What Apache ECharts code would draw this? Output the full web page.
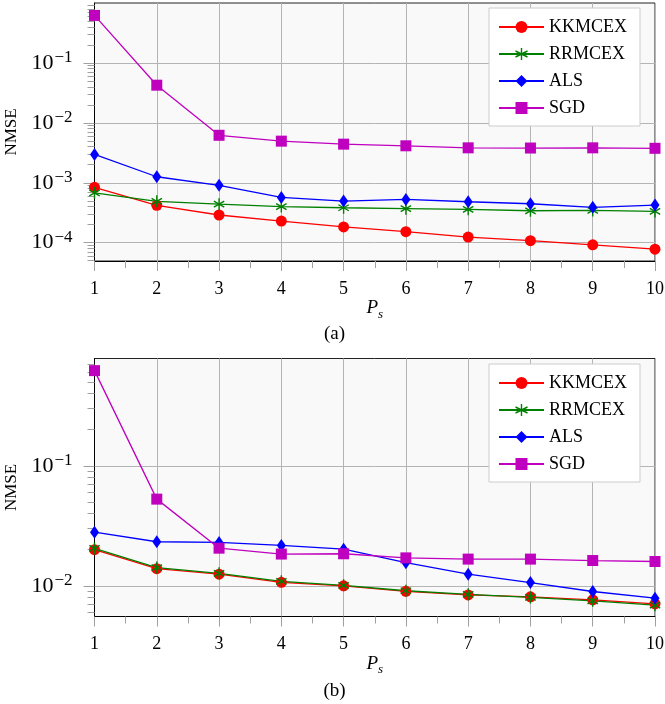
<!DOCTYPE html>
<html>
<head>
<meta charset="utf-8">
<script src="https://cdn.jsdelivr.net/npm/echarts@6/dist/echarts.min.js"></script>
<style>
html,body{margin:0;padding:0;background:#fff;}
#chart{width:665px;height:704px;}
</style>
</head>
<body>
<div id="chart"></div>
<script>
// ---- data ----
const xValues = [1, 2, 3, 4, 5, 6, 7, 8, 9, 10];
const seriesNames = ['KKMCEX', 'RRMCEX', 'ALS', 'SGD'];

// (a)
const kkmcexA = [8.4e-4, 4.2e-4, 2.9e-4, 2.3e-4, 1.83e-4, 1.53e-4, 1.24e-4, 1.08e-4, 9.2e-5, 7.8e-5];
const rrmcexA = [6.8e-4, 4.9e-4, 4.4e-4, 4.0e-4, 3.83e-4, 3.7e-4, 3.6e-4, 3.41e-4, 3.46e-4, 3.33e-4];
const alsA    = [2.97e-3, 1.26e-3, 9.05e-4, 5.7e-4, 4.95e-4, 5.28e-4, 4.82e-4, 4.47e-4, 3.89e-4, 4.25e-4];
const sgdA    = [0.62, 0.0425, 6.2e-3, 4.95e-3, 4.41e-3, 4.14e-3, 3.83e-3, 3.8e-3, 3.83e-3, 3.76e-3];

// (b)
const kkmcexB = [0.0200, 0.0139, 0.0125, 0.0107, 0.0100, 0.0090, 0.0084, 0.0081, 0.00765, 0.00708];
const rrmcexB = [0.0205, 0.0142, 0.0127, 0.0109, 0.0101, 0.0091, 0.0085, 0.0080, 0.0075, 0.0069];
const alsB    = [0.0280, 0.0233, 0.0230, 0.0217, 0.0202, 0.0156, 0.0125, 0.01064, 0.00897, 0.00789];
const sgdB    = [0.622, 0.0528, 0.0206, 0.0184, 0.0185, 0.0171, 0.0167, 0.0167, 0.01625, 0.01595];

// axis ticks
const xTicks = [1, 2, 3, 4, 5, 6, 7, 8, 9, 10];
const yTicksA = [1e-4, 1e-3, 1e-2, 1e-1];
const yTicksB = [1e-2, 1e-1];
const yRangeA = [4.95e-5, 1.0];
const yRangeB = [5.55e-3, 0.785];
const captions = ['(a)', '(b)'];
const yName = 'NMSE';

// ---- styling ----
const colors = ['#ff0000', '#008000', '#0000ff', '#bf00bf'];
const FONT = '"Liberation Serif", "Times New Roman", serif';
const gridColor = '#b4b4b4';
const tickColor = '#a0a0a0';
const asterisk = 'path://M0,-1L0,1M-0.866,-0.5L0.866,0.5M-0.866,0.5L0.866,-0.5';
const symbols = ['circle', asterisk, 'diamond', 'rect'];
const symbolSizes = [11, 12, [9, 13], 11];

// minor tick positions (log10 space) for a log range
function minorLogValues(range) {
  const out = [];
  const lo = Math.floor(Math.log10(range[0]));
  const hi = Math.ceil(Math.log10(range[1]));
  for (let e = lo; e <= hi; e++) {
    for (let m = 2; m <= 9; m++) {
      const v = m * Math.pow(10, e);
      if (v >= range[0] && v <= range[1]) out.push(Math.log10(v));
    }
  }
  return out;
}

function sup(v) {
  const e = Math.round(Math.log10(v));
  return '{b|10}{s|' + (e < 0 ? '\u2212' + (-e) : e) + '}';
}

const GL = 94.5, GR = 10, GH = 258;
const gridTops = [3, 358.5];
const ranges = [yRangeA, yRangeB];
const majors = [yTicksA, yTicksB];
const dataSets = [[kkmcexA, rrmcexA, alsA, sgdA], [kkmcexB, rrmcexB, alsB, sgdB]];
const captionY = [334, 691];

const grids = [], xAxes = [], yAxes = [], series = [], legends = [], graphics = [];

for (let g = 0; g < 2; g++) {
  grids.push({
    left: GL, right: GR, top: gridTops[g], height: GH,
    outerBoundsMode: 'none', containLabel: false,
    show: true, backgroundColor: '#f9f9f9', borderColor: '#222', borderWidth: 1
  });
  xAxes.push({
    type: 'value', gridIndex: g, min: xTicks[0], max: xTicks[xTicks.length - 1], interval: 1,
    axisLine: { show: true, onZero: false, lineStyle: { color: '#000', width: 1 } },
    axisTick: { show: true, inside: false, length: 10, lineStyle: { color: tickColor, width: 1 } },
    minorTick: { show: true, splitNumber: 2, length: 7, lineStyle: { color: tickColor, width: 1 } },
    splitLine: { show: true, lineStyle: { color: gridColor, width: 1 } },
    axisLabel: { margin: 19, color: '#000', fontFamily: FONT, fontSize: 18 },
    name: '{p|P}{s|s}', nameLocation: 'middle', nameGap: 24,
    nameTextStyle: {
      rich: {
        p: { fontFamily: FONT, fontStyle: 'italic', fontSize: 19, color: '#000' },
        s: { fontFamily: FONT, fontStyle: 'italic', fontSize: 13, color: '#000', verticalAlign: 'bottom', padding: [12, 0, 0, 0] }
      }
    }
  });
  // main log axis
  yAxes.push({
    type: 'log', logBase: 10, gridIndex: g, min: ranges[g][0], max: ranges[g][1],
    axisLine: { show: true, lineStyle: { color: '#000', width: 1 } },
    axisTick: { show: true, inside: false, length: 11, customValues: majors[g], lineStyle: { color: tickColor, width: 1 } },
    splitLine: { show: true, lineStyle: { color: gridColor, width: 1 } },
    axisLabel: {
      customValues: majors[g], margin: 22, formatter: sup,
      fontFamily: FONT, fontSize: 22, color: '#000',
      rich: {
        b: { fontFamily: FONT, fontSize: 22, color: '#000' },
        s: { fontFamily: FONT, fontSize: 17, color: '#000', verticalAlign: 'top', padding: [0, 0, 10, 1] }
      }
    },
    name: yName, nameLocation: 'middle', nameGap: 70,
    nameTextStyle: { fontFamily: FONT, fontSize: 17, color: '#000' }
  });
  // minor tick axis (linear in log10 space, same extent as the log axis)
  yAxes.push({
    type: 'value', gridIndex: g, min: Math.log10(ranges[g][0]), max: Math.log10(ranges[g][1]),
    position: 'left', offset: 0,
    axisLine: { show: false },
    axisTick: { show: true, inside: false, length: 7, customValues: minorLogValues(ranges[g]), lineStyle: { color: tickColor, width: 1 } },
    splitLine: { show: false },
    axisLabel: { show: false }
  });
  for (let s = 0; s < 4; s++) {
    const isAst = s === 1;
    series.push({
      name: seriesNames[s], type: 'line', xAxisIndex: g, yAxisIndex: 2 * g,
      data: xValues.map((x, i) => [x, dataSets[g][s][i]]),
      symbol: symbols[s], symbolSize: symbolSizes[s], symbolKeepAspect: true,
      showAllSymbol: true,
      lineStyle: { color: colors[s], width: 1.3 },
      itemStyle: isAst
        ? { color: 'rgba(0,0,0,0)', borderColor: colors[s], borderWidth: 1.4, opacity: 1 }
        : { color: colors[s], borderWidth: 0, opacity: 1 },
      emphasis: { disabled: true },
      animation: false
    });
  }
  legends.push({
    orient: 'vertical', left: 489, top: g === 0 ? 8 : 364,
    padding: [10, 13, 9, 9], itemGap: 9, itemWidth: 45, itemHeight: 15,
    backgroundColor: '#fff', borderColor: '#cccccc', borderWidth: 1, borderRadius: 0,
    textStyle: { fontFamily: FONT, fontSize: 18, color: '#000', lineHeight: 18 },
    data: seriesNames.map((n, s) => s === 1
      ? { name: n, itemStyle: { color: 'rgba(0,0,0,0)', borderColor: colors[s], borderWidth: 1.4 } }
      : { name: n }),
    selectedMode: false
  });
  graphics.push({
    type: 'text', x: 334.5, y: captionY[g],
    style: { text: captions[g], font: '19px ' + FONT, fill: '#000', align: 'center', verticalAlign: 'middle' }
  });
}

const chart = echarts.init(document.getElementById('chart'), null, { renderer: 'canvas' });
chart.setOption({
  animation: false,
  grid: grids, xAxis: xAxes, yAxis: yAxes, series: series, legend: legends, graphic: graphics
});
</script>
</body>
</html>
